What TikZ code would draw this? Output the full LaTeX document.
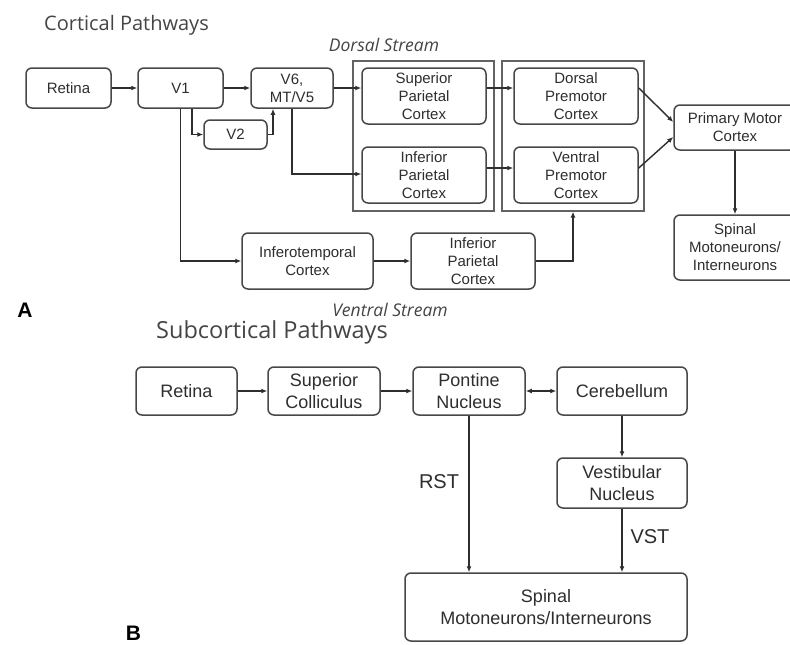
\documentclass[tikz,border=0pt]{standalone}
\usepackage{fontspec}
\setmainfont{Liberation Sans}
\newfontfamily\titlefont{Open Sans}
\usetikzlibrary{arrows.meta}
\definecolor{boxc}{HTML}{474747}
\definecolor{grpc}{HTML}{636363}
\definecolor{linec}{HTML}{2E2E2E}
\definecolor{txt}{HTML}{2E2E2E}
\definecolor{ttl}{HTML}{454545}
\tikzset{
  box/.style={draw=boxc, line width=1.5pt, rounded corners=6pt, align=center, inner sep=0pt,
    font=\fontsize{15}{18}\selectfont, text=txt},
  boxB/.style={box, font=\fontsize{18}{21.5}\selectfont},
  grp/.style={draw=grpc, line width=1.3pt, inner sep=0pt},
  arr/.style={-{Latex[length=6pt,width=5pt]}, line width=1.4pt, draw=linec},
  dblarr/.style={{Latex[length=6pt,width=5pt]}-{Latex[length=6pt,width=5pt]}, line width=1.4pt, draw=linec},
  ttlA/.style={font=\titlefont\fontsize{20}{24}\selectfont, text=ttl, inner sep=0pt},
  ttlB/.style={font=\titlefont\fontsize{23.5}{28}\selectfont, text=ttl, inner sep=0pt},
  stream/.style={font=\titlefont\itshape\fontsize{17.5}{21}\selectfont, text=ttl, inner sep=0pt},
  lbl/.style={font=\fontsize{20}{24}\selectfont, text=txt, inner sep=0pt},
  panel/.style={font=\bfseries\fontsize{21}{24}\selectfont, text=black, inner sep=0pt}
}
\begin{document}
\begin{tikzpicture}[x=1pt,y=-1pt]
\useasboundingbox (0,0) rectangle (790,645);
\clip (0,0) rectangle (790,645);
\fill[white] (0,0) rectangle (790,645);

% ---------- Cortical pathways ----------
\node[ttlA, anchor=west] (tA) at (44,25) {Cortical Pathways};
\node[stream] (dstr) at (384,45) {Dorsal Stream};
\node[stream] (vstr) at (390,310) {Ventral Stream};
\node[panel, anchor=base] (pA) at (25,317) {A};

\node[grp, minimum width=141, minimum height=150] (ds1) at (423.5,136) {};
\node[grp, minimum width=142, minimum height=150] (ds2) at (573,136) {};

\node[box, minimum width=85, minimum height=40] (retA) at (68.5,88) {Retina};
\node[box, minimum width=85, minimum height=40] (v1) at (180.5,88) {V1};
\node[box, minimum width=82, minimum height=40] (v6) at (292,88) {V6,\\MT/V5};
\node[box, minimum width=63, minimum height=29] (v2) at (235.5,134.5) {V2};
\node[box, minimum width=124, minimum height=56] (spc) at (424,96) {Superior\\Parietal\\Cortex};
\node[box, minimum width=124, minimum height=56] (ipcD) at (424,175) {Inferior\\Parietal\\Cortex};
\node[box, minimum width=124, minimum height=56] (dpm) at (576,96) {Dorsal\\Premotor\\Cortex};
\node[box, minimum width=124, minimum height=56] (vpm) at (576,175) {Ventral\\Premotor\\Cortex};
\node[box, minimum width=122, minimum height=45] (pmc) at (735,127.5) {Primary Motor\\Cortex};
\node[box, minimum width=122, minimum height=65] (spinA) at (735,247.5) {Spinal\\Motoneurons/\\Interneurons};
\node[box, minimum width=131, minimum height=56] (itc) at (307.5,261) {Inferotemporal\\Cortex};
\node[box, minimum width=124, minimum height=56] (ipcV) at (473,261) {Inferior\\Parietal\\Cortex};

\draw[arr] (retA.east) -- (v1.west);
\draw[arr] (v1.east) -- (v6.west);
\draw[arr] (v6.east) -- (v6.east -| spc.west);
\draw[arr] (spc.east |- v6.east) -- (dpm.west |- v6.east);
\draw[arr] ([yshift=7pt]ipcD.east) -- ([yshift=7pt]vpm.west);
\draw[arr] ([xshift=11.5pt]v1.south) |- (v2.west);
\draw[arr] (v2.east) -| ([xshift=-19pt]v6.south);
\draw[arr] (v6.south) |- ([yshift=1pt]ipcD.west);
\draw[arr] (v1.south) |- (itc.west);
\draw[arr] (itc.east) -- (ipcV.west);
\draw[arr] (ipcV.east) -| (ds2.south);
\draw[arr] ([yshift=8pt]dpm.east) -- ([yshift=5.5pt]pmc.west);
\draw[arr] ([yshift=7pt]vpm.east) -- ([yshift=-9.5pt]pmc.west);
\draw[arr] (pmc.south) -- (spinA.north);

% ---------- Subcortical pathways ----------
\node[ttlB, anchor=west] (tB) at (156,332) {Subcortical Pathways};
\node[panel, anchor=base] (pB) at (133.5,640) {B};

\node[boxB, minimum width=101, minimum height=48] (retB) at (186.5,391) {Retina};
\node[boxB, minimum width=112, minimum height=48] (sc) at (324,391) {Superior\\Colliculus};
\node[boxB, minimum width=112, minimum height=48] (pn) at (469,391) {Pontine\\Nucleus};
\node[boxB, minimum width=130, minimum height=48] (cb) at (622,391) {Cerebellum};
\node[boxB, minimum width=130, minimum height=50] (vn) at (622,483) {Vestibular\\Nucleus};
\node[boxB, minimum width=282, minimum height=68] (spinB) at (546,607) {Spinal\\Motoneurons/Interneurons};

\node[lbl] (rst) at (439,482) {RST};
\node[lbl] (vst) at (650,537) {VST};

\draw[arr] (retB.east) -- (sc.west);
\draw[arr] (sc.east) -- (pn.west);
\draw[dblarr] (pn.east) -- (cb.west);
\draw[arr] (pn.south) -- (pn.south |- spinB.north);
\draw[arr] (cb.south) -- (vn.north);
\draw[arr] (vn.south) -- (vn.south |- spinB.north);
\end{tikzpicture}
\end{document}
